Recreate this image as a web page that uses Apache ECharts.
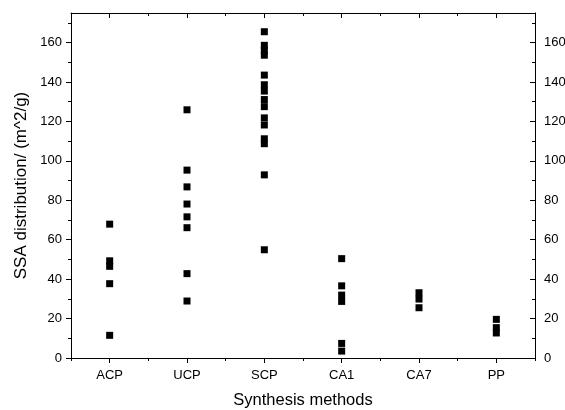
<!DOCTYPE html>
<html>
<head>
<meta charset="utf-8">
<script src="https://cdn.jsdelivr.net/npm/echarts@6/dist/echarts.min.js"></script>
<style>
  html, body { margin: 0; padding: 0; background: #fff; }
  #chart { width: 565px; height: 410px; }
</style>
</head>
<body>
<div id="chart"></div>
<script>
// Synthesis methods on the x axis
const categories = ['ACP', 'UCP', 'SCP', 'CA1', 'CA7', 'PP'];

// Specific surface area values (m^2/g) per method
const acpValues = [67.9, 49.3, 46.5, 37.7, 11.5];
const ucpValues = [125.9, 95.3, 86.8, 78.1, 71.6, 66.1, 42.8, 28.9];
const scpValues = [165.5, 158.6, 156.1, 153.6, 143.5, 138.6, 135.4, 131.1, 127.5, 121.8, 118.2, 111.2, 108.7, 92.9, 54.9];
const ca1Values = [50.4, 36.6, 31.9, 28.7, 7.4, 3.5];
const ca7Values = [33.1, 29.9, 25.5];
const ppValues = [19.6, 15.4, 12.7];

// Y axis ticks
const yMajorTicks = [0, 20, 40, 60, 80, 100, 120, 140, 160];
const yMinorTicks = [10, 30, 50, 70, 90, 110, 130, 150, 170];
const yMin = 0;
const yMax = 175;

const groups = [acpValues, ucpValues, scpValues, ca1Values, ca7Values, ppValues];
const points = [];
groups.forEach((vals, i) => {
  vals.forEach(v => points.push([categories[i], v]));
});

const FONT = '"Liberation Sans", Arial, sans-serif';
const black = '#000';
const line = { show: true, onZero: false, lineStyle: { color: black, width: 1 } };
const noLine = { show: false, onZero: false };

const chart = echarts.init(document.getElementById('chart'), null, { renderer: 'canvas' });

chart.setOption({
  animation: false,
  backgroundColor: '#fff',
  grid: { left: 71, right: 30, top: 13, bottom: 52, containLabel: false, outerBoundsMode: 'none' },
  xAxis: [
    {
      type: 'category', data: categories, position: 'bottom', boundaryGap: true,
      axisLine: line,
      axisTick: { show: true, alignWithLabel: true, length: 5, inside: false, lineStyle: { color: black } },
      axisLabel: { show: true, color: black, fontFamily: FONT, fontSize: 13, margin: 11 },
      splitLine: { show: false },
      name: 'Synthesis methods', nameLocation: 'middle', nameGap: 34,
      nameTextStyle: { color: black, fontFamily: FONT, fontSize: 16.5 }
    },
    {
      type: 'category', data: categories, position: 'bottom', boundaryGap: true,
      axisLine: noLine,
      axisTick: { show: true, alignWithLabel: false, length: 3, inside: false, lineStyle: { color: black } },
      axisLabel: { show: false }, splitLine: { show: false }
    },
    {
      type: 'category', data: categories, position: 'top', boundaryGap: true,
      axisLine: line,
      axisTick: { show: true, alignWithLabel: true, length: 5, inside: true, lineStyle: { color: black } },
      axisLabel: { show: false }, splitLine: { show: false }
    },
    {
      type: 'category', data: categories, position: 'top', boundaryGap: true,
      axisLine: noLine,
      axisTick: { show: true, alignWithLabel: false, length: 3, inside: true, lineStyle: { color: black } },
      axisLabel: { show: false }, splitLine: { show: false }
    }
  ],
  yAxis: [
    {
      type: 'value', min: yMin, max: yMax, position: 'left',
      axisLine: line,
      axisTick: { show: true, length: 5, inside: false, customValues: yMajorTicks, lineStyle: { color: black } },
      axisLabel: { show: true, customValues: yMajorTicks, color: black, fontFamily: FONT, fontSize: 13, margin: 9 },
      splitLine: { show: false },
      name: 'SSA distribution/ (m^2/g)', nameLocation: 'middle', nameGap: 39,
      nameTextStyle: { color: black, fontFamily: FONT, fontSize: 17 }
    },
    {
      type: 'value', min: yMin, max: yMax, position: 'left',
      axisLine: noLine,
      axisTick: { show: true, length: 3, inside: false, customValues: yMinorTicks, lineStyle: { color: black } },
      axisLabel: { show: false }, splitLine: { show: false }
    },
    {
      type: 'value', min: yMin, max: yMax, position: 'right',
      axisLine: line,
      axisTick: { show: true, length: 5, inside: true, customValues: yMajorTicks, lineStyle: { color: black } },
      axisLabel: { show: true, customValues: yMajorTicks, color: black, fontFamily: FONT, fontSize: 13, margin: 9 },
      splitLine: { show: false }
    },
    {
      type: 'value', min: yMin, max: yMax, position: 'right',
      axisLine: noLine,
      axisTick: { show: true, length: 3, inside: true, customValues: yMinorTicks, lineStyle: { color: black } },
      axisLabel: { show: false }, splitLine: { show: false }
    }
  ],
  series: [
    {
      type: 'scatter',
      xAxisIndex: 0,
      yAxisIndex: 0,
      symbol: 'rect',
      symbolSize: 7,
      itemStyle: { color: black, opacity: 1 },
      silent: true,
      data: points
    }
  ]
});
</script>
</body>
</html>
